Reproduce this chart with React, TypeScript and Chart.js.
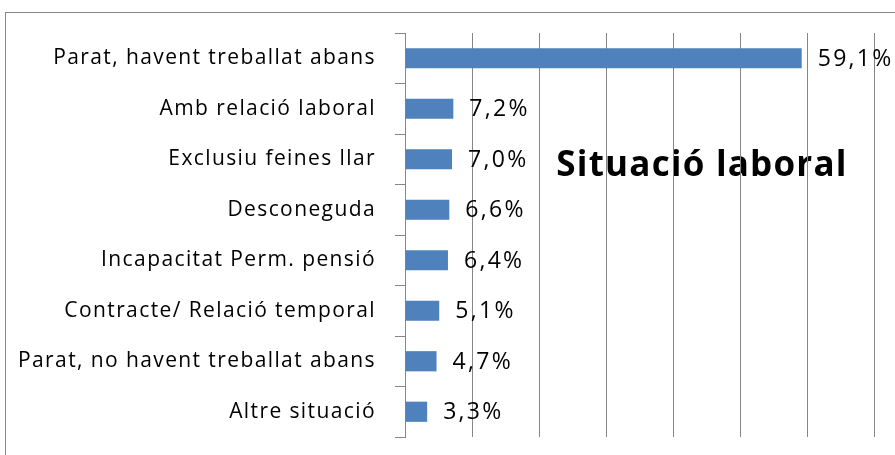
import React, { useEffect, useRef } from "react";
import { Chart, registerables } from "chart.js";

Chart.register(...registerables);

const categories = [
  "Parat, havent treballat abans",
  "Amb relació laboral",
  "Exclusiu feines llar",
  "Desconeguda",
  "Incapacitat Perm. pensió",
  "Contracte/ Relació temporal",
  "Parat, no havent treballat abans",
  "Altre situació",
];
const values = [59.1, 7.2, 7.0, 6.6, 6.4, 5.1, 4.7, 3.3];
const valueLabels = ["59,1%", "7,2%", "7,0%", "6,6%", "6,4%", "5,1%", "4,7%", "3,3%"];
const chartTitle = "Situació laboral";

const GRID = "#868686";
const BAR = "#4F81BD";

export default function App() {
  const ref = useRef<HTMLCanvasElement | null>(null);

  useEffect(() => {
    if (!ref.current) return;
    const labelPlugin = {
      id: "valueLabels",
      afterDatasetsDraw(chart: any) {
        const ctx = chart.ctx;
        const meta = chart.getDatasetMeta(0);
        ctx.save();
        ctx.font = "23px 'Open Sans'";
        (ctx as any).letterSpacing = "2.3px";
        ctx.fillStyle = "#000";
        ctx.textAlign = "left";
        ctx.textBaseline = "middle";
        meta.data.forEach((el: any, i: number) => {
          ctx.fillText(valueLabels[i], el.x + 16, el.y + 1);
        });
        ctx.restore();
      },
    };
    const titlePlugin = {
      id: "bigTitle",
      beforeDraw(chart: any) {
        const ctx = chart.ctx;
        (ctx as any).letterSpacing = "1.4px";
        ctx.save();
        ctx.font = "bold 35px 'Open Sans'";
        (ctx as any).letterSpacing = "1.2px";
        ctx.fillStyle = "#000";
        ctx.textAlign = "center";
        ctx.textBaseline = "alphabetic";
        ctx.fillText(chartTitle, 702, 176);
        ctx.restore();
      },
    };
    const chart = new Chart(ref.current, {
      type: "bar",
      data: {
        labels: categories,
        datasets: [
          {
            data: values,
            backgroundColor: BAR,
            borderWidth: 0,
            barPercentage: 0.4,
            categoryPercentage: 1,
          },
        ],
      },
      options: {
        indexAxis: "y",
        animation: false,
        responsive: false,
        devicePixelRatio: 1,
        layout: { padding: { left: 0, top: 33, right: 8, bottom: 18 } },
        plugins: {
          legend: { display: false },
          tooltip: { enabled: false },
          title: { display: false },
        },
        scales: {
          x: {
            min: 0,
            max: 80,
            ticks: { display: false, stepSize: 10 },
            grid: { color: GRID, lineWidth: 1, drawTicks: false },
            border: { display: false },
            afterFit: (s: any) => {
              s.height = 0;
            },
          },
          y: {
            ticks: {
              color: "#000",
              font: { family: "'Open Sans'", size: 21 },
              padding: 19,
            },
            grid: {
              drawOnChartArea: false,
              drawTicks: true,
              tickLength: 10,
              color: GRID,
              offset: true,
            },
            border: { display: true, color: GRID, width: 1 },
            afterFit: (s: any) => {
              s.width = 405;
              s.paddingTop = 0;
              s.paddingBottom = 0;
            },
          },
        },
      },
      plugins: [titlePlugin, labelPlugin],
    });
    return () => chart.destroy();
  }, []);

  return (
    <div
      style={{
        position: "fixed",
        left: 0,
        top: 0,
        width: 895,
        height: 455,
        overflow: "hidden",
        background: "#fff",
      }}
    >
      <div
        style={{
          position: "absolute",
          left: 5,
          top: 12,
          width: 1000,
          height: 600,
          border: `1px solid ${GRID}`,
          boxSizing: "border-box",
        }}
      />
      <canvas
        ref={ref}
        width={950}
        height={455}
        style={{ position: "absolute", left: 0, top: 0, width: 950, height: 455 }}
      />
    </div>
  );
}
